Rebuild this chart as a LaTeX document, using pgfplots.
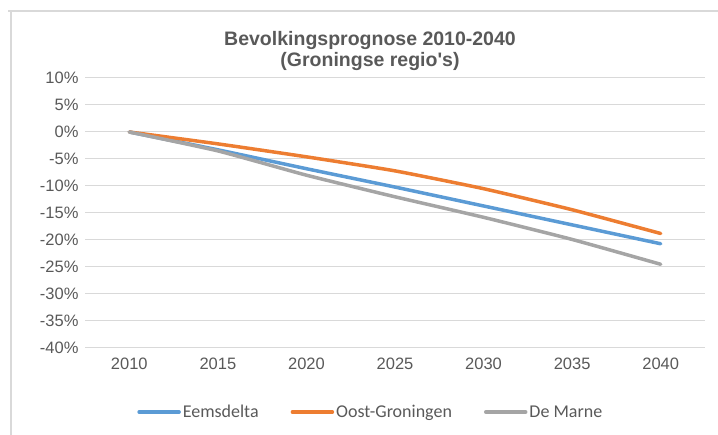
\documentclass[border=0pt]{standalone}
\usepackage{fontspec}
\setmainfont{Liberation Sans}
\newfontfamily\titlefont{Liberation Sans}[Ligatures=TeXOff]
\newfontfamily\legfont{Carlito}
\usepackage{pgfplots}
\pgfplotsset{compat=1.18}
\definecolor{txt}{HTML}{595959}
\definecolor{gridc}{HTML}{D9D9D9}
\definecolor{cblue}{HTML}{5B9BD5}
\definecolor{corange}{HTML}{ED7D31}
\definecolor{cgray}{HTML}{A5A5A5}
\begin{document}
\begin{tikzpicture}[x=1bp,y=1bp]
\useasboundingbox (0,0) rectangle (718,435);
\draw[gridc,line width=1.2bp] (8,424) -- (718,424);
\draw[gridc,line width=1.2bp] (11,424) -- (11,0);
\node[txt,font=\titlefont\fontsize{19.5bp}{21bp}\selectfont\bfseries,align=center] at (370,384) {Bevolkingsprognose 2010-2040\\(Groningse regio's)};
\begin{axis}[
  at={(85bp,87bp)}, anchor=south west,
  width=620bp, height=270bp, scale only axis,
  xmin=2007.5, xmax=2042.5, ymin=-40, ymax=10,
  xtick={2010,2015,...,2040}, ytick={-40,-35,...,10},
  xticklabel style={/pgf/number format/1000 sep={}},
  yticklabel={\pgfmathprintnumber{\tick}\%},
  /pgf/number format/assume math mode=true,
  ymajorgrids, xmajorgrids=false, grid style={draw=gridc,line width=1bp},
  axis line style={draw=none},
  major tick length=0pt,
  tick label style={font=\fontsize{16.5bp}{18bp}\selectfont, text=txt},
  yticklabel style={xshift=-3bp},
  xticklabel style={yshift=-6bp},
  legend style={at={(0.461,-0.237)}, anchor=center, draw=none, fill=none,
    legend columns=-1, font=\legfont\fontsize{18bp}{20bp}\selectfont, text=txt,
    inner sep=0pt,
    /tikz/every even column/.append style={column sep=30bp}},
  legend cell align=left,
  legend image code/.code={\draw[#1,line width=3.5bp] (0bp,0bp) -- (40bp,0bp);},
  every axis plot/.append style={line width=3.5bp, smooth, tension=0.3, line cap=round},
]
\addplot[cblue] coordinates {(2010,0) (2015,-3.3) (2020,-6.8) (2025,-10.2) (2030,-13.7) (2035,-17.2) (2040,-20.7)};
\addplot[corange] coordinates {(2010,0) (2015,-2.2) (2020,-4.6) (2025,-7.2) (2030,-10.5) (2035,-14.4) (2040,-18.8)};
\addplot[cgray] coordinates {(2010,0) (2015,-3.5) (2020,-8.0) (2025,-12.0) (2030,-15.8) (2035,-19.9) (2040,-24.5)};
\legend{Eemsdelta,Oost-Groningen,De Marne}
\end{axis}
\end{tikzpicture}
\end{document}
